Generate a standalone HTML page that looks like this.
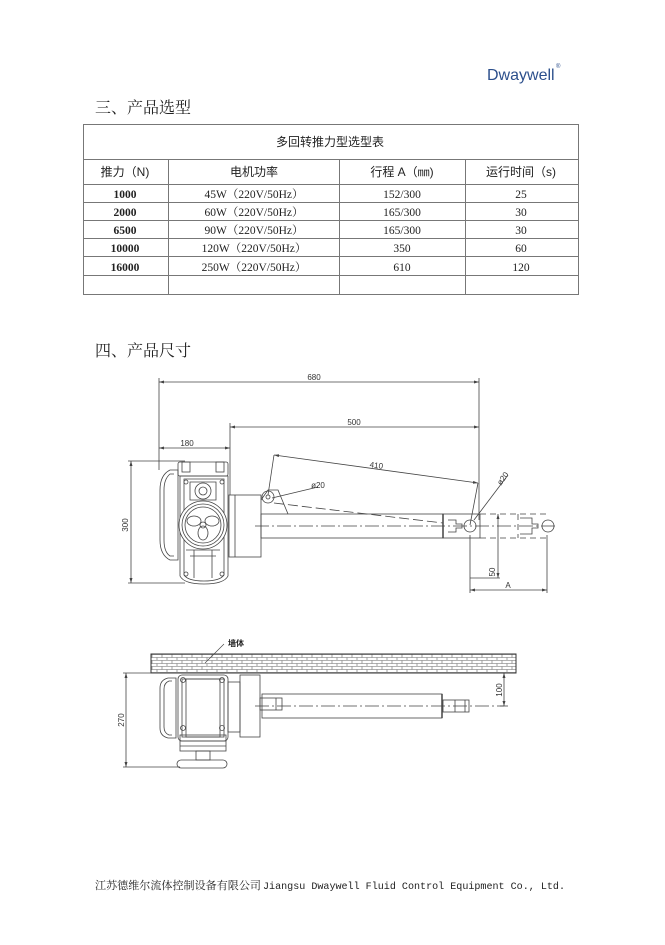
<!DOCTYPE html>
<html><head><meta charset="utf-8"><style>
html,body{margin:0;padding:0;background:#fff;}
svg{display:block}
.t{font-family:"Liberation Serif","Noto Serif CJK SC",serif;}
.s{font-family:"Liberation Sans","Noto Sans CJK SC",sans-serif;}
</style></head><body>
<svg width="665" height="945" viewBox="0 0 665 945" xmlns="http://www.w3.org/2000/svg">
<defs>
<marker id="ar" markerWidth="6" markerHeight="6" refX="5" refY="3" orient="auto-start-reverse" markerUnits="userSpaceOnUse"><path d="M0 1.5L5 3L0 4.5z" fill="#444"/></marker>
<pattern id="brick" width="10" height="6" patternUnits="userSpaceOnUse">
<rect width="10" height="6" fill="#fff"/>
<path d="M0 .5h10M0 3.5h10M2 .5v3M7 3.5v3" stroke="#666" stroke-width="0.6"/></pattern></defs>
<!-- logo -->
<text x="487" y="80" class="s" font-size="16" fill="#2c4f8c">Dwaywell</text>
<text x="556" y="68" class="s" font-size="6" fill="#2c4f8c">®</text>
<!-- headings -->
<text x="95" y="113" class="t" font-size="16" fill="#222">三、产品选型</text>
<text x="95" y="356" class="t" font-size="16" fill="#222">四、产品尺寸</text>
<!-- table -->
<g stroke="#777" stroke-width="1" fill="none">
<rect x="83.5" y="124.5" width="495" height="170"/>
<line x1="83" y1="159.5" x2="578" y2="159.5"/>
<line x1="83" y1="184.5" x2="578" y2="184.5"/>
<line x1="83" y1="202.5" x2="578" y2="202.5"/>
<line x1="83" y1="220.5" x2="578" y2="220.5"/>
<line x1="83" y1="238.5" x2="578" y2="238.5"/>
<line x1="83" y1="256.5" x2="578" y2="256.5"/>
<line x1="83" y1="275.5" x2="578" y2="275.5"/>
<line x1="168.5" y1="159" x2="168.5" y2="294"/>
<line x1="339.5" y1="159" x2="339.5" y2="294"/>
<line x1="465.5" y1="159" x2="465.5" y2="294"/>
</g>
<g class="t" font-size="11.5" fill="#222" text-anchor="middle">
<text x="330" y="146" class="s" font-size="12">多回转推力型选型表</text>
<text x="125" y="176" class="s" font-size="12">推力（N)</text>
<text x="254" y="176" class="s" font-size="12">电机功率</text>
<text x="402" y="176" class="s" font-size="12">行程 A（㎜)</text>
<text x="521" y="176" class="s" font-size="12">运行时间（s)</text>
<text x="125" y="198" font-weight="bold">1000</text>
<text x="125" y="216" font-weight="bold">2000</text>
<text x="125" y="234" font-weight="bold">6500</text>
<text x="125" y="252" font-weight="bold">10000</text>
<text x="125" y="271" font-weight="bold">16000</text>
<text x="254" y="198">45W（220V/50Hz）</text>
<text x="254" y="216">60W（220V/50Hz）</text>
<text x="254" y="234">90W（220V/50Hz）</text>
<text x="254" y="252">120W（220V/50Hz）</text>
<text x="254" y="271">250W（220V/50Hz）</text>
<text x="402" y="198">152/300</text>
<text x="402" y="216">165/300</text>
<text x="402" y="234">165/300</text>
<text x="402" y="252">350</text>
<text x="402" y="271">610</text>
<text x="521" y="198">25</text>
<text x="521" y="216">30</text>
<text x="521" y="234">30</text>
<text x="521" y="252">60</text>
<text x="521" y="271">120</text>
</g>
<!-- top drawing -->
<g stroke="#444" stroke-width="0.8" fill="none">
<line x1="159" y1="382" x2="479" y2="382" marker-start="url(#ar)" marker-end="url(#ar)"/>
<line x1="159" y1="378" x2="159" y2="470"/>
<line x1="479" y1="378" x2="479" y2="520"/>
<line x1="230" y1="427" x2="479" y2="427" marker-start="url(#ar)" marker-end="url(#ar)"/>
<line x1="230" y1="423" x2="230" y2="495"/>
<line x1="159" y1="448" x2="230" y2="448" marker-start="url(#ar)" marker-end="url(#ar)"/>
<line x1="131" y1="461" x2="131" y2="583" marker-start="url(#ar)" marker-end="url(#ar)"/>
<line x1="128" y1="461" x2="185" y2="461"/>
<line x1="128" y1="583" x2="185" y2="583"/>
<line x1="274" y1="455" x2="478" y2="483" marker-start="url(#ar)" marker-end="url(#ar)"/>
<line x1="274" y1="455" x2="268" y2="495"/>
<line x1="478" y1="483" x2="470" y2="525"/>
<line x1="272" y1="498" x2="318" y2="487"/>
<line x1="474" y1="520" x2="508" y2="475"/>
<line x1="498" y1="514" x2="498" y2="578" marker-start="url(#ar)" marker-end="url(#ar)"/>
<line x1="470" y1="535" x2="470" y2="593"/>
<line x1="547" y1="535" x2="547" y2="593"/>
<line x1="470" y1="590" x2="547" y2="590" marker-start="url(#ar)" marker-end="url(#ar)"/>
<!-- motor -->
<path d="M178 470 h-8 q-10 5 -10 20 v50 q0 15 10 20 h8 z"/>
<path d="M174 474 h-4 q-6 5 -6 16 v50 q0 12 6 16 h4"/>
<rect x="178" y="462" width="50" height="14" rx="2"/>
<rect x="182" y="462" width="8" height="10"/>
<rect x="216" y="462" width="8" height="10"/>
<path d="M180 476 h48 v100 q-4 8 -24 8 q-20 0 -24 -8 z"/>
<path d="M184 479 h40 v96 q-4 6 -20 6 q-16 0 -20 -6 z"/>
<path d="M190 482 h26 v18 h-26 z"/>
<circle cx="203" cy="491" r="8"/>
<circle cx="203" cy="491" r="4"/>
<line x1="186" y1="550" x2="220" y2="550"/>
<line x1="190" y1="556" x2="216" y2="556"/>
<line x1="194" y1="550" x2="194" y2="578"/>
<line x1="212" y1="550" x2="212" y2="578"/>
<circle cx="186" cy="482" r="2"/><circle cx="222" cy="482" r="2"/>
<circle cx="186" cy="574" r="2"/><circle cx="222" cy="574" r="2"/>
<circle cx="203" cy="525" r="24" fill="#fff"/>
<circle cx="203" cy="525" r="21"/>
<circle cx="203" cy="525" r="18"/>
<ellipse cx="194" cy="521" rx="7" ry="5"/>
<ellipse cx="212" cy="521" rx="7" ry="5"/>
<ellipse cx="203" cy="533" rx="5" ry="7"/>
<circle cx="203" cy="525" r="3"/>
<rect x="229" y="495" width="32" height="62"/>
<line x1="235" y1="495" x2="235" y2="557"/>
<path d="M261 500 l7 -10 l10 0 l10 24"/>
<circle cx="268" cy="497" r="6"/>
<circle cx="268" cy="497" r="2"/>
<rect x="261" y="514" width="182" height="24"/>
<line x1="443" y1="514" x2="443" y2="538" stroke-width="1.5"/>
<rect x="443" y="514" width="37" height="24"/>
<circle cx="470" cy="526" r="6"/>
<path d="M448 520 h8 v4 h6 v4 h-6 v4 h-8"/>
<path d="M480 514 h70 M480 538 h70 M518 514 v24" stroke-dasharray="6 4"/>
<path d="M520 518 h12 v6 h6 v4 h-6 v6 h-12" />
<circle cx="548" cy="526" r="6"/>
<line x1="255" y1="526" x2="555" y2="526" stroke-dasharray="14 3 2 3"/>
<line x1="274" y1="503" x2="443" y2="523" stroke-dasharray="10 4"/>
<line x1="470" y1="578" x2="500" y2="578"/>
</g>
<g class="s" font-size="8" fill="#333" text-anchor="middle">
<text x="314" y="380">680</text>
<text x="354" y="425">500</text>
<text x="187" y="446">180</text>
<text x="376" y="468" transform="rotate(8 376 468)">410</text>
<text x="318" y="488">ø20</text>
<text x="505" y="480" transform="rotate(-55 505 480)">ø20</text>
<text x="128" y="525" transform="rotate(-90 128 525)">300</text>
<text x="495" y="572" transform="rotate(-90 495 572)">50</text>
<text x="508" y="588">A</text>
</g>
<!-- bottom drawing -->
<rect x="151" y="654" width="365" height="19" fill="url(#brick)" stroke="#333" stroke-width="1"/>
<line x1="205" y1="663" x2="224" y2="644" stroke="#444" stroke-width="0.6"/>
<text x="228" y="646" class="s" font-size="8" font-weight="bold" fill="#222">墙体</text>
<g stroke="#444" stroke-width="0.8" fill="none">
<line x1="126" y1="673" x2="126" y2="767" marker-start="url(#ar)" marker-end="url(#ar)"/>
<line x1="123" y1="673" x2="160" y2="673"/>
<line x1="123" y1="767" x2="180" y2="767"/>
<line x1="504" y1="673" x2="504" y2="706" marker-start="url(#ar)" marker-end="url(#ar)"/>
<line x1="500" y1="706" x2="508" y2="706"/>
<path d="M176 678 h-8 q-8 2 -8 10 v40 q0 8 8 10 h8 z"/>
<path d="M172 681 h-3 q-5 2 -5 8 v38 q0 6 5 8 h3"/>
<rect x="178" y="675" width="50" height="66" rx="4"/>
<rect x="182" y="679" width="42" height="58"/>
<rect x="186" y="679" width="34" height="58"/>
<circle cx="183" cy="680" r="2.5"/><circle cx="222" cy="680" r="2.5"/>
<circle cx="183" cy="728" r="2.5"/><circle cx="222" cy="728" r="2.5"/>
<rect x="180" y="735" width="46" height="16"/>
<line x1="180" y1="741" x2="226" y2="741"/>
<line x1="180" y1="746" x2="226" y2="746"/>
<rect x="196" y="751" width="14" height="9"/>
<rect x="177" y="760" width="50" height="8" rx="4"/>
<rect x="228" y="682" width="12" height="50"/>
<rect x="240" y="675" width="20" height="62"/>
<rect x="260" y="698" width="22" height="12"/>
<line x1="276" y1="698" x2="276" y2="710"/>
<rect x="262" y="694" width="180" height="24"/>
<line x1="442" y1="694" x2="442" y2="718" stroke-width="1.5"/>
<rect x="443" y="700" width="26" height="12"/>
<line x1="455" y1="700" x2="455" y2="712"/>
<line x1="465" y1="700" x2="465" y2="712"/>
<line x1="255" y1="706" x2="504" y2="706" stroke-dasharray="14 3 2 3"/>
</g>
<g class="s" font-size="8" fill="#333" text-anchor="middle">
<text x="124" y="720" transform="rotate(-90 124 720)">270</text>
<text x="502" y="690" transform="rotate(-90 502 690)">100</text>
</g>
<!-- footer -->
<text x="95" y="889" font-size="11" fill="#222" font-family="'Noto Serif CJK SC',serif" textLength="166" lengthAdjust="spacingAndGlyphs">江苏德维尔流体控制设备有限公司</text>
<text x="263" y="889" font-size="10.5" fill="#222" font-family="'Liberation Mono',monospace" textLength="302" lengthAdjust="spacingAndGlyphs">Jiangsu Dwaywell Fluid Control Equipment Co., Ltd.</text>
</svg>
</body></html>
